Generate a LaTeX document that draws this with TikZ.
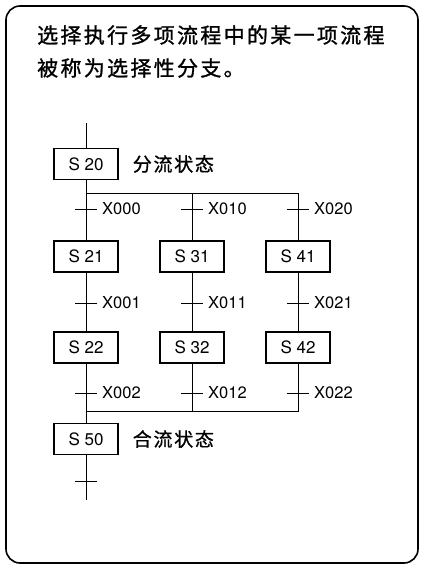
\documentclass[tikz,border=0pt]{standalone}
\usepackage{fontspec}
\setsansfont{TeX Gyre Heros}
\newfontfamily\zhtitle[LetterSpace=11, FakeBold=1.2]{Noto Sans CJK SC}
\newfontfamily\zhnote[LetterSpace=9, FakeBold=0.8]{Noto Sans CJK SC}
\usetikzlibrary{positioning}

\begin{document}
\begin{tikzpicture}[x=1pt, y=-1pt,
    state/.style={rectangle, draw, line width=1.2pt, minimum width=64pt, minimum height=31pt, inner sep=0pt, font=\sffamily\fontsize{17}{17}\selectfont},
    line/.style={line width=1pt},
    cond/.style={anchor=west, inner sep=0pt, font=\sffamily\fontsize{16.5}{16.5}\selectfont},
    note/.style={inner sep=0pt, font=\zhnote\fontsize{19}{19}\selectfont},
    title/.style={anchor=west, inner sep=0pt, font=\zhtitle\fontsize{21}{21}\selectfont}
]
\useasboundingbox (0,0) rectangle (424,568);
\draw[line width=1.6pt, rounded corners=14pt] (6,6) rectangle (418,563);

% text at the top
\node[title] (title1) at (37,35) {选择执行多项流程中的某一项流程};
\node[title] (title2) at (37,68) {被称为选择性分支。};

% steps
\node[state] (s20) at (86,164) {S 20};
\node[state] (s21) at (86,256.5) {S 21};
\node[state] (s31) at (192,256.5) {S 31};
\node[state] (s41) at (298,256.5) {S 41};
\node[state] (s22) at (86,347.5) {S 22};
\node[state] (s32) at (192,347.5) {S 32};
\node[state] (s42) at (298,347.5) {S 42};
\node[state] (s50) at (86,439) {S 50};

\node[note, right=14pt of s20] (split) {分流状态};
\node[note, right=14pt of s50] (merge) {合流状态};

\coordinate (top) at (86,123);
\coordinate (fork) at (298,193);
\coordinate (join) at (298,411);
\coordinate (bottom) at (86,500);

% lines
\draw[line] (top) -- (s20);
\draw[line] (s20) -- (s21);
\draw[line] (s21) -- (s22);
\draw[line] (s22) -- (s50);
\draw[line] (s50) -- (bottom);
\draw[line] (s20.south |- fork) -- (fork) -- (s41);
\draw[line] (s31.north |- fork) -- (s31);
\draw[line] (s41) -- (s42);
\draw[line] (s31) -- (s32);
\draw[line] (s42) -- (join) -- (s22.south |- join);
\draw[line] (s32) -- (s32.south |- join);

% transitions
\foreach \x/\c in {86/0, 192/1, 298/2} {
  \foreach \y/\r in {209/0, 303/1, 393/2} {
    \coordinate (t\c\r) at (\x,\y);
    \draw[line] ([xshift=-11pt]t\c\r) -- ([xshift=11pt]t\c\r);
    \node[cond] (x\c\r) at ([xshift=16pt]t\c\r) {X0\c\r};
  }
}
\coordinate (tend) at (86,481);
\draw[line] ([xshift=-11pt]tend) -- ([xshift=11pt]tend);

\end{tikzpicture}
\end{document}
